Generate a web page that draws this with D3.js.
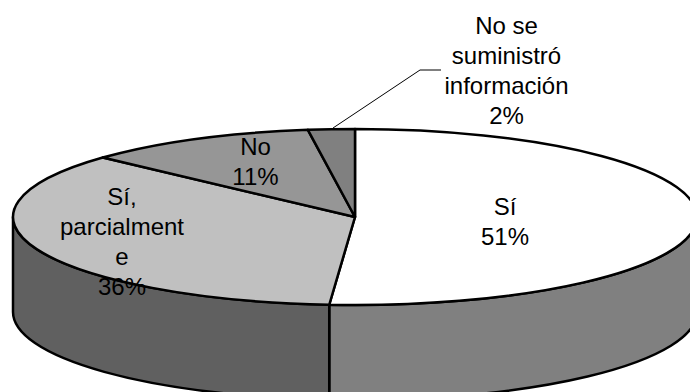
<!DOCTYPE html>
<html><head><meta charset="utf-8">
<script src="https://cdn.jsdelivr.net/npm/d3@7"></script>
<style>html,body{margin:0;padding:0;background:#fff;overflow:hidden}svg{display:block}</style>
</head><body><svg id="c" width="690" height="392"></svg>
<script>
const categories = ["Sí", "Sí, parcialmente", "No", "No se suministró información"];
const values = [51.2, 35.6, 11, 2.2];
const labelLines = [["Sí","51%"],["Sí,","parcialment","e","36%"],["No","11%"],["No se","suministró","información","2%"]];
const topColors = ["#ffffff","#c0c0c0","#969696","#808080"];
const sideColors = ["#808080","#606060","#606060","#606060"];

const W=690,H=392,cx=355,cy=217,rx=342,ry=88,depth=95,lh=30;
const labelAnchors=[[505,214.5],[122,205],[255.5,155],[506.5,34]];
const svg=d3.select("#c");
const pie=d3.pie().sort(null).value(d=>d)(values);
const px=a=>cx+rx*Math.sin(a), py=a=>cy-ry*Math.cos(a);
const fmt=n=>n.toFixed(2);

// side walls (visible front half only)
const sideArcs=pie.map(p=>({i:p.index,a0:Math.max(p.startAngle,Math.PI/2),a1:Math.min(p.endAngle,3*Math.PI/2)})).filter(s=>s.a1>s.a0);
svg.selectAll("path.side").data(sideArcs).join("path").attr("class","side")
 .attr("d",s=>{
  const sweepLarge=(s.a1-s.a0)>Math.PI?1:0;
  return `M${fmt(px(s.a0))},${fmt(py(s.a0))}A${rx},${ry} 0 ${sweepLarge} 1 ${fmt(px(s.a1))},${fmt(py(s.a1))}`+
   `L${fmt(px(s.a1))},${fmt(py(s.a1)+depth)}A${rx},${ry} 0 ${sweepLarge} 0 ${fmt(px(s.a0))},${fmt(py(s.a0)+depth)}Z`;
 })
 .attr("fill",s=>sideColors[s.i]).attr("stroke","#000").attr("stroke-width",2.5).attr("stroke-linejoin","round");

// top slices
svg.selectAll("path.top").data(pie).join("path").attr("class","top")
 .attr("d",p=>{
  const large=(p.endAngle-p.startAngle)>Math.PI?1:0;
  return `M${cx},${cy}L${fmt(px(p.startAngle))},${fmt(py(p.startAngle))}A${rx},${ry} 0 ${large} 1 ${fmt(px(p.endAngle))},${fmt(py(p.endAngle))}Z`;
 })
 .attr("fill",p=>topColors[p.index]).attr("stroke","#000").attr("stroke-width",2.5).attr("stroke-linejoin","round");

// leader line
svg.append("path").attr("d",d3.line()([[333,128],[420,70],[441,70]]))
 .attr("fill","none").attr("stroke","#000").attr("stroke-width",1);

// labels
const t=svg.selectAll("text").data(labelLines).join("text")
 .attr("font-family","'Liberation Sans',Arial,sans-serif").attr("font-size",24)
 .attr("fill","#000").attr("text-anchor","middle");
t.each(function(lines,i){
 d3.select(this).selectAll("tspan").data(lines).join("tspan")
  .attr("x",labelAnchors[i][0]).attr("y",(d,j)=>labelAnchors[i][1]+j*lh).text(d=>d);
});
</script></body></html>
